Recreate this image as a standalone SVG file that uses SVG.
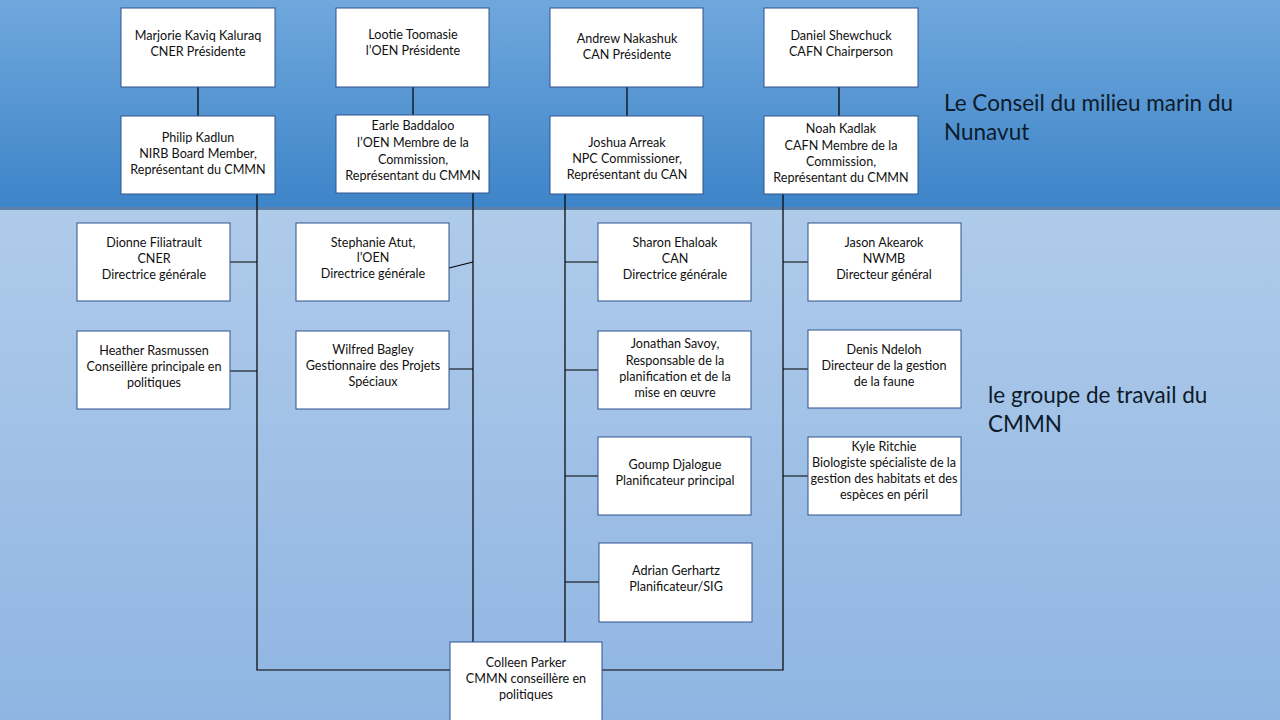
<svg xmlns="http://www.w3.org/2000/svg" width="1280" height="720" viewBox="0 0 1280 720">
<defs>
<linearGradient id="gTop" x1="0" y1="0" x2="0" y2="1">
<stop offset="0" stop-color="#70a8dd"/>
<stop offset="1" stop-color="#3d84c8"/>
</linearGradient>
<linearGradient id="gBot" x1="0" y1="0" x2="0" y2="1">
<stop offset="0" stop-color="#afcbea"/>
<stop offset="1" stop-color="#8fb5e2"/>
</linearGradient>
<style>
.box{fill:#ffffff;stroke:#2f528f;stroke-width:1}
.t{font-family:Lato,"Open Sans","Liberation Sans",sans-serif;font-size:12.6px;fill:#111111;text-anchor:middle}
.lbl{font-family:Lato,"Open Sans","Liberation Sans",sans-serif;font-size:22.5px;fill:#0d1b2a}
.c{stroke:#000000;stroke-width:1.2;fill:none}
</style>
</defs>
<rect x="0" y="0" width="1280" height="208" fill="url(#gTop)"/>
<rect x="0" y="210" width="1280" height="510" fill="url(#gBot)"/>
<rect x="0" y="207" width="1280" height="3" fill="#5f80a8"/>

<g id="connectors">
<path class="c" d="M198 87V116M413 87V115M627 87V116M839 87V116"/>
<path class="c" d="M257 194V670H450M473 193V642M565 194V642M783 194V670H602"/>
<path class="c" d="M230 262H257M230 371H257M449 268L473 262M449 369H473"/>
<path class="c" d="M565 262H598M565 370H598M565 476H598M565 582H599"/>
<path class="c" d="M783 262H808M783 369H808M783 476H808"/>
</g>

<g id="n-marjorie"><rect class="box" x="121" y="8" width="154" height="79"/><text class="t" x="198" y="40">Marjorie Kaviq Kaluraq</text><text class="t" x="198" y="56">CNER Présidente</text></g>
<g id="n-lootie"><rect class="box" x="336" y="8" width="153" height="79"/><text class="t" x="413" y="39">Lootie Toomasie</text><text class="t" x="413" y="55">l’OEN Présidente</text></g>
<g id="n-andrew"><rect class="box" x="550" y="8" width="153" height="79"/><text class="t" x="627" y="43">Andrew Nakashuk</text><text class="t" x="627" y="59">CAN Présidente</text></g>
<g id="n-daniel"><rect class="box" x="764" y="8" width="154" height="79"/><text class="t" x="841" y="40">Daniel Shewchuck</text><text class="t" x="841" y="56">CAFN  Chairperson</text></g>

<g id="n-philip"><rect class="box" x="121" y="116" width="154" height="78"/><text class="t" x="198" y="142">Philip Kadlun</text><text class="t" x="198" y="158">NIRB Board Member,</text><text class="t" x="198" y="174">Représentant du CMMN</text></g>
<g id="n-earle"><rect class="box" x="336" y="115" width="153" height="78"/><text class="t" x="413" y="130">Earle Baddaloo</text><text class="t" x="413" y="147">l’OEN Membre  de la</text><text class="t" x="413" y="164">Commission,</text><text class="t" x="413" y="180">Représentant du CMMN</text></g>
<g id="n-joshua"><rect class="box" x="550" y="116" width="153" height="78"/><text class="t" x="627" y="147">Joshua Arreak</text><text class="t" x="627" y="163">NPC Commissioner,</text><text class="t" x="627" y="179">Représentant du CAN</text></g>
<g id="n-noah"><rect class="box" x="764" y="116" width="154" height="78"/><text class="t" x="841" y="133">Noah Kadlak</text><text class="t" x="841" y="150">CAFN  Membre de la</text><text class="t" x="841" y="166">Commission,</text><text class="t" x="841" y="182">Représentant du CMMN</text></g>

<g id="n-dionne"><rect class="box" x="77" y="223" width="153" height="78"/><text class="t" x="154" y="247">Dionne Filiatrault</text><text class="t" x="154" y="263">CNER</text><text class="t" x="154" y="279">Directrice générale</text></g>
<g id="n-heather"><rect class="box" x="77" y="331" width="153" height="78"/><text class="t" x="154" y="355">Heather  Rasmussen</text><text class="t" x="154" y="371">Conseillère principale en</text><text class="t" x="154" y="387">politiques</text></g>
<g id="n-stephanie"><rect class="box" x="296" y="223" width="153" height="78"/><text class="t" x="373" y="247">Stephanie Atut,</text><text class="t" x="373" y="262">l’OEN</text><text class="t" x="373" y="278">Directrice générale</text></g>
<g id="n-wilfred"><rect class="box" x="296" y="331" width="153" height="78"/><text class="t" x="373" y="354">Wilfred Bagley</text><text class="t" x="373" y="370">Gestionnaire des Projets</text><text class="t" x="373" y="386">Spéciaux</text></g>

<g id="n-sharon"><rect class="box" x="598" y="223" width="153" height="78"/><text class="t" x="675" y="247">Sharon Ehaloak</text><text class="t" x="675" y="263">CAN</text><text class="t" x="675" y="279">Directrice générale</text></g>
<g id="n-jonathan"><rect class="box" x="598" y="331" width="153" height="78"/><text class="t" x="675" y="348">Jonathan Savoy,</text><text class="t" x="675" y="365">Responsable de la</text><text class="t" x="675" y="381">planification et de  la</text><text class="t" x="675" y="397">mise en  œuvre</text></g>
<g id="n-goump"><rect class="box" x="598" y="437" width="153" height="78"/><text class="t" x="675" y="469">Goump  Djalogue</text><text class="t" x="675" y="485">Planificateur principal</text></g>
<g id="n-adrian"><rect class="box" x="599" y="543" width="153" height="79"/><text class="t" x="676" y="575">Adrian Gerhartz</text><text class="t" x="676" y="591">Planificateur/SIG</text></g>

<g id="n-jason"><rect class="box" x="808" y="223" width="153" height="78"/><text class="t" x="884" y="247">Jason Akearok</text><text class="t" x="884" y="263">NWMB</text><text class="t" x="884" y="279">Directeur général</text></g>
<g id="n-denis"><rect class="box" x="808" y="330" width="153" height="78"/><text class="t" x="884" y="354">Denis Ndeloh</text><text class="t" x="884" y="370">Directeur de  la gestion</text><text class="t" x="884" y="386">de  la faune</text></g>
<g id="n-kyle"><rect class="box" x="808" y="437" width="153" height="78"/><text class="t" x="884" y="451">Kyle Ritchie</text><text class="t" x="884" y="467">Biologiste spécialiste de la</text><text class="t" x="884" y="483">gestion des habitats et des</text><text class="t" x="884" y="499">espèces en  péril</text></g>

<g id="n-colleen"><rect class="box" x="450" y="642" width="152" height="82"/><text class="t" x="526" y="667">Colleen Parker</text><text class="t" x="526" y="683">CMMN  conseillère en</text><text class="t" x="526" y="699">politiques</text></g>

<g id="labels">
<text class="lbl" x="944" y="111">Le Conseil du milieu marin du</text>
<text class="lbl" x="944" y="140">Nunavut</text>
<text class="lbl" x="988" y="403">le groupe de travail du</text>
<text class="lbl" x="988" y="432">CMMN</text>
</g>
</svg>
